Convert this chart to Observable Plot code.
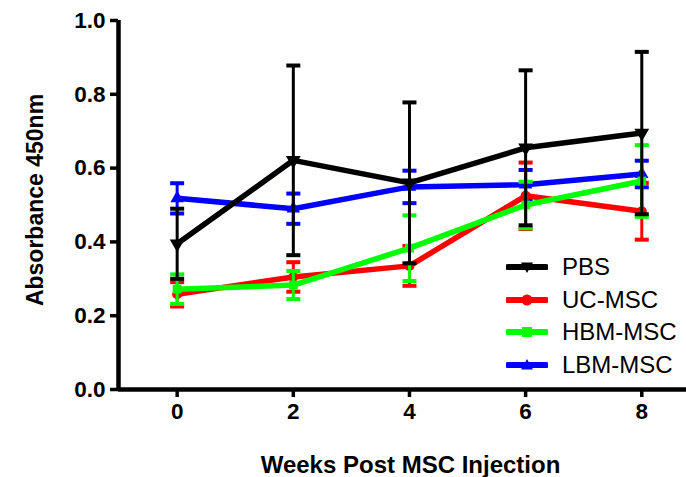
<!DOCTYPE html>
<html>
<head>
<meta charset="utf-8">
<script src="https://cdn.jsdelivr.net/npm/d3@7"></script>
<script src="https://cdn.jsdelivr.net/npm/@observablehq/plot@0.6"></script>
<style>
  body { margin: 0; background: #fff; }
  #wrap { position: relative; width: 686px; height: 477px; font-family: 'Liberation Sans', Arial, sans-serif; }
  #legend { position: absolute; left: 506px; top: 251px; }
  .row { display: flex; align-items: center; height: 32.5px; }
  .row span { font-size: 24px; margin-left: 14px; color: #000; }
</style>
</head>
<body>
<div id="wrap"><div id="legend"></div></div>
<script>
const weeks = [0, 2, 4, 6, 8];
const seriesNames = ["PBS", "UC-MSC", "HBM-MSC", "LBM-MSC"];
const seriesColors = ["#000000", "#ff0000", "#00ff00", "#0000ff"];
const seriesSymbols = ["triangle-down", "circle", "square", "triangle"];
const pbsMean = [0.395, 0.621, 0.560, 0.655, 0.695];
const pbsErr  = [0.095, 0.257, 0.218, 0.210, 0.220];
const ucMean  = [0.258, 0.305, 0.335, 0.525, 0.483];
const ucErr   = [0.033, 0.040, 0.054, 0.090, 0.077];
const hbmMean = [0.272, 0.283, 0.383, 0.500, 0.565];
const hbmErr  = [0.040, 0.038, 0.089, 0.063, 0.097];
const lbmMean = [0.518, 0.490, 0.549, 0.555, 0.584];
const lbmErr  = [0.041, 0.041, 0.044, 0.040, 0.036];
const yTicks = [0, 0.2, 0.4, 0.6, 0.8, 1.0];
const xDomain = [-1.01, 8.77];

const means = [pbsMean, ucMean, hbmMean, lbmMean];
const errs = [pbsErr, ucErr, hbmErr, lbmErr];

const cap = { draw(ctx) { ctx.moveTo(-7, 0); ctx.lineTo(7, 0); } };

function rows(i) {
  return weeks.map((w, j) => ({
    series: seriesNames[i], week: w, mean: means[i][j],
    lo: means[i][j] - errs[i][j], hi: means[i][j] + errs[i][j]
  }));
}

const drawOrder = [3, 1, 2, 0];
const seriesMarks = [];
for (const i of drawOrder) {
  const data = rows(i);
  const c = seriesColors[i];
  seriesMarks.push(
    Plot.ruleX(data, { x: "week", y1: "lo", y2: "hi", stroke: c, strokeWidth: 3 }),
    Plot.dot(data, { x: "week", y: "hi", symbol: cap, r: 5, stroke: c, fill: "none", strokeWidth: 4 }),
    Plot.dot(data, { x: "week", y: "lo", symbol: cap, r: 5, stroke: c, fill: "none", strokeWidth: 4 }),
    Plot.line(data, { x: "week", y: "mean", stroke: c, strokeWidth: 5.5 }),
    i === 0
      ? Plot.dot(data, { x: "week", y: "mean", symbol: "triangle", rotate: 180, r: 5.5, fill: c, stroke: "none" })
      : Plot.dot(data, { x: "week", y: "mean", symbol: seriesSymbols[i], r: 5, fill: c, stroke: "none" })
  );
}

const chart = Plot.plot({
  width: 686,
  height: 477,
  marginLeft: 118,
  marginTop: 20,
  marginBottom: 88,
  marginRight: 0,
  style: { fontFamily: "'Liberation Sans', Arial, sans-serif", color: "#000", background: "transparent" },
  x: { domain: xDomain },
  y: { domain: [0, 1] },
  marks: [
    Plot.axisY({ ticks: yTicks, tickFormat: d3.format(".1f"), tickSize: 8, strokeWidth: 3.5, tickPadding: 5, fontSize: 22.5, fontWeight: "bold", label: null }),
    Plot.axisX({ ticks: weeks, tickFormat: d3.format("d"), tickSize: 8, strokeWidth: 3.5, tickPadding: 6, fontSize: 22.5, fontWeight: "bold", label: null }),
    Plot.ruleX([xDomain[0]], { stroke: "#000", strokeWidth: 4.5 }),
    Plot.ruleY([0], { stroke: "#000", strokeWidth: 4.5 }),
    Plot.text(["Absorbance 450nm"], { frameAnchor: "left", textAnchor: "middle", lineAnchor: "middle", rotate: -90, dx: -83, dy: -5, fontSize: 23, fontWeight: "bold" }),
    Plot.text(["Weeks Post MSC Injection"], { frameAnchor: "bottom", lineAnchor: "middle", dx: 8, dy: 76, fontSize: 24, fontWeight: "bold" }),
    ...seriesMarks
  ]
});
document.getElementById("wrap").prepend(chart);

const legend = document.getElementById("legend");
const symPaths = {
  "triangle-down": "M0,6 L-6,-4.5 L6,-4.5 Z",
  "circle": "M-5.5,0 A5.5,5.5 0 1,0 5.5,0 A5.5,5.5 0 1,0 -5.5,0 Z",
  "square": "M-5,-5 H5 V5 H-5 Z",
  "triangle": "M0,-6 L-6,4.5 L6,4.5 Z"
};
seriesNames.forEach((name, i) => {
  const row = document.createElement("div");
  row.className = "row";
  row.innerHTML = `<svg width="42" height="16" viewBox="-21 -8 42 16"><line x1="-19" x2="19" y1="0" y2="0" stroke="${seriesColors[i]}" stroke-width="6" stroke-linecap="round"/><path d="${symPaths[seriesSymbols[i]]}" fill="${seriesColors[i]}"/></svg><span>${name}</span>`;
  legend.appendChild(row);
});
</script>
</body>
</html>
